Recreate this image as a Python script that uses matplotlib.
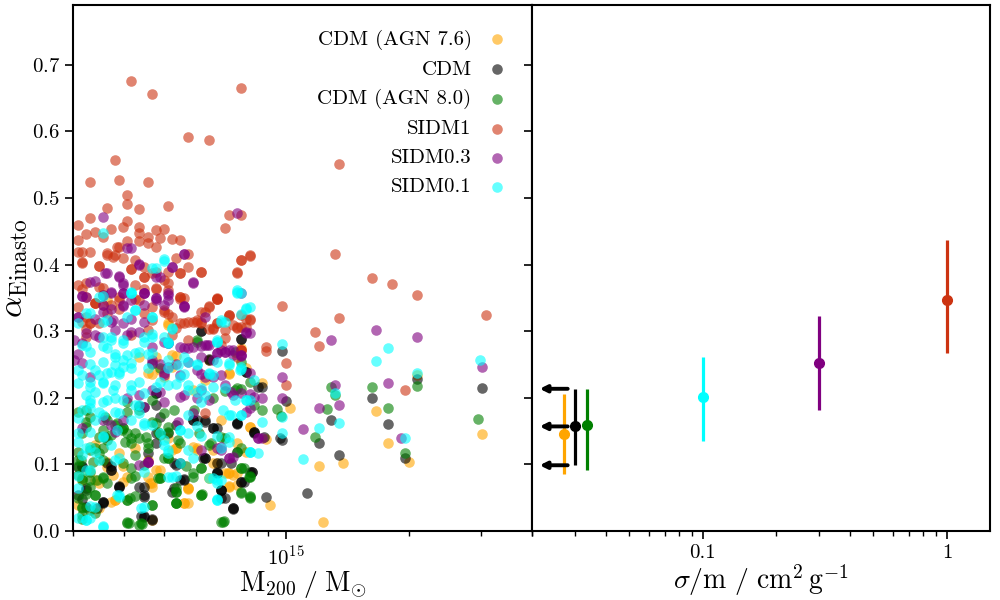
import numpy as np
import matplotlib
matplotlib.use("Agg")
import matplotlib.pyplot as plt
from matplotlib.ticker import NullFormatter, FixedLocator, FixedFormatter

plt.rcParams['font.family'] = 'serif'
plt.rcParams['font.serif'] = ['cmr10', 'DejaVu Serif']
plt.rcParams['mathtext.fontset'] = 'cm'
plt.rcParams['axes.formatter.use_mathtext'] = True
plt.rcParams['axes.unicode_minus'] = False
plt.rcParams['axes.linewidth'] = 1.5

# ── 왼쪽 패널: (log10 M200, alpha_Einasto) ─────────────────────────
agn76 = [
    (14.71, 0.312), (14.73, 0.262), (14.86, 0.237), (14.94, 0.222), (15.01, 0.185), (15.22, 0.180),
    (15.32, 0.234), (15.48, 0.146), (15.25, 0.132), (15.30, 0.104), (15.08, 0.098), (15.14, 0.102),
    (15.09, 0.014), (14.96, 0.039), (14.95, 0.138), (14.91, 0.156), (14.88, 0.087), (14.86, 0.087),
    (14.86, 0.066), (14.81, 0.080), (14.76, 0.065), (14.76, 0.042), (14.69, 0.092), (14.72, 0.122),
    (14.58, 0.047), (14.54, 0.072), (14.67, 0.066), (14.61, 0.081), (14.56, 0.096), (14.59, 0.117),
    (14.63, 0.125), (14.66, 0.107), (14.66, 0.081), (14.64, 0.261), (14.68, 0.261), (14.66, 0.237),
    (14.72, 0.246), (14.80, 0.227), (14.77, 0.212), (14.84, 0.167), (14.77, 0.126), (14.82, 0.122),
    (14.52, 0.126), (14.58, 0.047), (14.60, 0.074), (14.67, 0.072), (14.76, 0.063), (14.75, 0.042),
    (14.68, 0.092), (14.73, 0.125), (14.78, 0.122), (14.82, 0.102), (14.85, 0.087), (14.88, 0.069),
    (14.91, 0.156), (14.88, 0.132), (14.67, 0.017), (14.51, 0.092), (14.53, 0.129), (14.90, 0.245),
    (14.69, 0.242), (14.81, 0.257),
    (14.56, 0.347), (14.67, 0.236), (14.70, 0.231), (14.86, 0.236), (14.89, 0.274), (14.71, 0.309),
    (14.72, 0.264), (14.56, 0.104), (14.60, 0.097), (14.50, 0.077), (14.53, 0.077), (14.575, 0.084),
    (14.665, 0.072), (14.57, 0.044), (14.54, 0.034), (14.49, 0.039), (14.71, 0.139), (14.73, 0.124),
    (14.78, 0.124), (14.90, 0.119), (14.857, 0.087), (14.87, 0.084), (14.81, 0.079), (14.86, 0.067),
    (14.76, 0.064), (14.75, 0.042), (14.83, 0.102),
]

cdm = [
    (14.79, 0.300), (14.89, 0.288), (14.99, 0.270), (14.94, 0.216), (15.00, 0.195), (15.21, 0.200),
    (15.48, 0.215), (15.32, 0.228), (15.11, 0.167), (15.25, 0.161), (15.08, 0.132), (15.13, 0.114),
    (15.29, 0.110), (15.05, 0.057), (14.95, 0.051), (14.99, 0.137), (14.985, 0.140), (14.945, 0.141),
    (14.92, 0.149), (14.88, 0.162), (14.83, 0.154), (14.78, 0.167), (14.81, 0.258), (14.90, 0.239),
    (14.915, 0.089), (14.895, 0.074), (14.87, 0.033), (14.85, 0.050), (14.84, 0.062), (14.83, 0.087),
    (14.88, 0.119), (14.865, 0.102), (14.84, 0.102), (14.80, 0.110), (14.75, 0.078), (14.725, 0.065),
    (14.725, 0.102), (14.67, 0.018), (14.65, 0.023), (14.64, 0.066), (14.59, 0.068), (14.55, 0.044),
    (14.50, 0.048), (14.51, 0.036), (14.535, 0.034), (14.57, 0.092), (14.56, 0.102), (14.50, 0.096),
    (14.68, 0.207), (14.68, 0.189), (14.65, 0.186), (14.69, 0.171), (14.66, 0.117), (14.71, 0.147),
    (14.555, 0.141), (14.77, 0.167), (14.80, 0.164), (14.82, 0.155), (14.795, 0.110), (14.74, 0.102),
    (14.75, 0.077), (14.83, 0.089), (14.84, 0.050), (14.87, 0.035), (14.84, 0.062), (14.89, 0.074),
    (14.915, 0.089), (14.92, 0.147), (14.88, 0.161), (14.57, 0.092), (14.59, 0.066), (14.65, 0.066),
    (14.65, 0.051), (14.55, 0.044), (14.65, 0.021), (14.67, 0.017), (14.49, 0.096), (14.51, 0.062),
    (14.68, 0.147), (14.68, 0.132), (14.73, 0.159),
    (14.68, 0.207), (14.64, 0.187), (14.79, 0.301), (14.89, 0.289), (14.81, 0.256), (14.90, 0.239),
    (14.93, 0.216), (14.50, 0.097), (14.57, 0.097), (14.59, 0.066), (14.65, 0.054), (14.55, 0.042),
    (14.645, 0.022), (14.49, 0.054), (14.51, 0.064), (14.77, 0.167), (14.80, 0.167), (14.82, 0.154),
    (14.88, 0.162), (14.92, 0.149), (14.80, 0.109), (14.83, 0.102), (14.73, 0.099), (14.74, 0.077),
    (14.83, 0.087), (14.89, 0.074), (14.91, 0.089), (14.84, 0.062), (14.72, 0.059), (14.87, 0.034),
]

agn80 = [
    (14.78, 0.284), (14.875, 0.269), (14.89, 0.254), (14.85, 0.210), (14.875, 0.212), (14.89, 0.213),
    (14.94, 0.182), (14.976, 0.183), (14.986, 0.173), (15.11, 0.216), (15.12, 0.204), (15.10, 0.183),
    (15.07, 0.141), (15.21, 0.216), (15.248, 0.185), (15.32, 0.218), (15.29, 0.117), (15.47, 0.168),
    (14.847, 0.015), (14.89, 0.059), (14.91, 0.051), (14.908, 0.081), (14.895, 0.095), (14.77, 0.081),
    (14.794, 0.056), (14.73, 0.042), (14.73, 0.059), (14.69, 0.080), (14.615, 0.012), (14.646, 0.010),
    (14.618, 0.050), (14.63, 0.053), (14.50, 0.018), (14.50, 0.034), (14.52, 0.077), (14.537, 0.077),
    (14.50, 0.079), (14.497, 0.107), (14.525, 0.104), (14.54, 0.117), (14.57, 0.144), (14.598, 0.152),
    (14.605, 0.134), (14.656, 0.141), (14.686, 0.149), (14.739, 0.132), (14.787, 0.147), (14.815, 0.132),
    (14.84, 0.141), (14.774, 0.182), (14.70, 0.177), (14.724, 0.182), (14.638, 0.182), (14.51, 0.182),
    (14.555, 0.171), (14.51, 0.156), (14.50, 0.147), (14.71, 0.110), (14.685, 0.080), (14.62, 0.080),
    (14.61, 0.047), (14.61, 0.012), (14.64, 0.009), (14.67, 0.039), (14.73, 0.059), (14.73, 0.042),
    (14.79, 0.054), (14.84, 0.014), (14.91, 0.050), (14.89, 0.095), (14.91, 0.081), (14.88, 0.119),
    (14.79, 0.095), (14.77, 0.087), (14.52, 0.171), (14.55, 0.152), (14.585, 0.162), (14.61, 0.147),
    (14.62, 0.132), (14.63, 0.147), (14.66, 0.132), (14.68, 0.162), (14.71, 0.156), (14.52, 0.122),
    (14.49, 0.107), (14.50, 0.077), (14.52, 0.066), (14.53, 0.054), (14.50, 0.036), (14.52, 0.032),
    (14.55, 0.081), (14.49, 0.084), (14.60, 0.155), (14.56, 0.137), (14.54, 0.141),
    (14.67, 0.251), (14.69, 0.244), (14.61, 0.194), (14.67, 0.196), (14.78, 0.287), (14.88, 0.214),
    (14.91, 0.224), (14.92, 0.189), (14.82, 0.199), (14.49, 0.179), (14.51, 0.164), (14.56, 0.167),
    (14.61, 0.179), (14.58, 0.159), (14.60, 0.154), (14.62, 0.139), (14.64, 0.139), (14.53, 0.124),
    (14.55, 0.124), (14.55, 0.107), (14.49, 0.119), (14.67, 0.164), (14.69, 0.144), (14.66, 0.124),
    (14.63, 0.114), (14.65, 0.099), (14.60, 0.102), (14.62, 0.094), (14.70, 0.109), (14.49, 0.097),
    (14.52, 0.089), (14.55, 0.079), (14.56, 0.072), (14.63, 0.082), (14.69, 0.079), (14.51, 0.056),
    (14.53, 0.054), (14.67, 0.039), (14.61, 0.047), (14.49, 0.049), (14.50, 0.024), (14.53, 0.027),
    (14.61, 0.014), (14.645, 0.012), (14.71, 0.149), (14.735, 0.137), (14.81, 0.129), (14.85, 0.139),
    (14.89, 0.124), (14.71, 0.109), (14.755, 0.097), (14.79, 0.094), (14.89, 0.094), (14.91, 0.082),
    (14.73, 0.064), (14.79, 0.054), (14.73, 0.042), (14.845, 0.014), (14.89, 0.057), (14.91, 0.052),
]

sidm1 = [
    (14.62, 0.676), (14.67, 0.656), (14.89, 0.665), (14.76, 0.592), (14.81, 0.587), (14.58, 0.557),
    (14.52, 0.524), (14.59, 0.527), (14.66, 0.524), (15.13, 0.551), (14.61, 0.505), (14.61, 0.491),
    (14.71, 0.488), (14.56, 0.485), (14.64, 0.483), (14.49, 0.459), (14.52, 0.470), (14.61, 0.465),
    (14.57, 0.454), (14.60, 0.456), (14.64, 0.456), (14.68, 0.452), (14.70, 0.454), (14.86, 0.474),
    (14.89, 0.474), (14.85, 0.455), (14.51, 0.446), (14.53, 0.449), (14.64, 0.447), (14.66, 0.441),
    (14.69, 0.440), (14.72, 0.439), (14.74, 0.437), (14.49, 0.437), (14.55, 0.441), (14.59, 0.426),
    (14.61, 0.436), (14.64, 0.436), (14.66, 0.432), (14.68, 0.426), (14.50, 0.419), (14.52, 0.419),
    (14.56, 0.417), (14.58, 0.414), (14.60, 0.410), (14.63, 0.407), (14.73, 0.410), (14.76, 0.416),
    (14.89, 0.407), (14.91, 0.413), (15.12, 0.416), (15.21, 0.380), (15.26, 0.371), (15.32, 0.354),
    (14.50, 0.402), (14.54, 0.398), (14.62, 0.393), (14.65, 0.381), (14.68, 0.389), (14.71, 0.389),
    (14.74, 0.387), (14.79, 0.389), (14.88, 0.387), (14.71, 0.362), (14.75, 0.350), (14.81, 0.338),
    (14.83, 0.348), (14.79, 0.329), (14.77, 0.314), (14.79, 0.314), (14.76, 0.314), (14.82, 0.303),
    (14.83, 0.312), (14.86, 0.323), (14.89, 0.324), (14.91, 0.317), (14.88, 0.305), (14.90, 0.306),
    (14.99, 0.338), (14.95, 0.276), (14.95, 0.270), (15.00, 0.252), (15.00, 0.219), (15.07, 0.299),
    (15.08, 0.277), (15.13, 0.320), (15.49, 0.324), (15.29, 0.212), (14.89, 0.272), (14.88, 0.261),
    (14.85, 0.290), (14.84, 0.279), (14.76, 0.287), (14.72, 0.294), (14.73, 0.305), (14.70, 0.329),
    (14.67, 0.336), (14.64, 0.347), (14.59, 0.347), (14.55, 0.339), (14.53, 0.342), (14.51, 0.321),
    (14.52, 0.312), (14.62, 0.294), (14.66, 0.302), (14.51, 0.291), (14.53, 0.342), (14.59, 0.351),
    (14.74, 0.351), (14.81, 0.336), (14.83, 0.348), (14.86, 0.324), (14.90, 0.318), (14.75, 0.312),
    (14.78, 0.314), (14.79, 0.312), (14.82, 0.305), (14.85, 0.302), (14.88, 0.306), (14.89, 0.272),
    (14.71, 0.326), (14.52, 0.312), (14.54, 0.312), (14.49, 0.336), (14.56, 0.414), (14.575, 0.411),
    (14.49, 0.419), (14.50, 0.404), (14.54, 0.398), (14.585, 0.426), (14.62, 0.393), (14.65, 0.381),
    (14.68, 0.365), (14.71, 0.372), (14.74, 0.351), (14.79, 0.389), (14.83, 0.350), (14.91, 0.414),
    (14.89, 0.407), (14.88, 0.389), (14.74, 0.387), (14.76, 0.396), (14.51, 0.372), (14.49, 0.369),
    (14.54, 0.366), (14.63, 0.369), (14.67, 0.387), (14.70, 0.377), (14.65, 0.396), (14.55, 0.354),
    (14.51, 0.351),
    (14.50, 0.363), (14.55, 0.365), (14.65, 0.363), (14.68, 0.364), (14.53, 0.342), (14.57, 0.339),
    (14.63, 0.349), (14.50, 0.314), (14.51, 0.304), (14.56, 0.327), (14.65, 0.327), (14.67, 0.317),
    (14.70, 0.332), (14.59, 0.334), (14.74, 0.349), (14.83, 0.348), (14.72, 0.322), (14.74, 0.312),
    (14.78, 0.317), (14.80, 0.329), (14.81, 0.304), (14.83, 0.312), (14.86, 0.324), (14.87, 0.309),
    (14.89, 0.306), (14.91, 0.319), (14.89, 0.271), (14.80, 0.177),
]

sidm03 = [
    (14.55, 0.471), (14.88, 0.477), (14.62, 0.425), (14.64, 0.400), (14.75, 0.416), (14.72, 0.397),
    (14.77, 0.373), (14.69, 0.382), (14.59, 0.383), (14.53, 0.375), (14.56, 0.387), (14.60, 0.369),
    (14.65, 0.357), (14.89, 0.357), (14.75, 0.338), (14.71, 0.354), (14.71, 0.282), (14.76, 0.275),
    (14.79, 0.277), (14.81, 0.279), (14.83, 0.267), (14.85, 0.269), (14.87, 0.272), (14.89, 0.263),
    (14.91, 0.297), (14.91, 0.237), (14.94, 0.200), (14.99, 0.231), (14.99, 0.200), (14.94, 0.140),
    (15.11, 0.287), (15.22, 0.302), (15.32, 0.291), (15.25, 0.222), (15.48, 0.246), (15.12, 0.219),
    (15.13, 0.189), (15.08, 0.185), (15.04, 0.153), (15.28, 0.140), (14.84, 0.122), (14.87, 0.111),
    (14.66, 0.104), (14.50, 0.353), (14.55, 0.354), (14.60, 0.357), (14.65, 0.357), (14.68, 0.350),
    (14.71, 0.347), (14.75, 0.338), (14.60, 0.338), (14.65, 0.339), (14.49, 0.321), (14.55, 0.329),
    (14.575, 0.317), (14.62, 0.299), (14.65, 0.314), (14.51, 0.297), (14.54, 0.291), (14.48, 0.287),
    (14.71, 0.282), (14.75, 0.275), (14.805, 0.279), (14.83, 0.267), (14.85, 0.269), (14.87, 0.264),
    (14.89, 0.264), (14.90, 0.297), (14.78, 0.242), (14.80, 0.231), (14.84, 0.234), (14.71, 0.246),
    (14.70, 0.237), (14.48, 0.257), (14.50, 0.252), (14.52, 0.231), (14.67, 0.252), (14.87, 0.204),
    (14.89, 0.207), (14.91, 0.185), (14.65, 0.186), (14.74, 0.201), (14.79, 0.212), (14.61, 0.425),
    (14.64, 0.401), (14.75, 0.416), (14.72, 0.396), (14.77, 0.374), (14.68, 0.381), (14.59, 0.381),
    (14.555, 0.387), (14.52, 0.374), (14.60, 0.372), (14.65, 0.357), (14.71, 0.357), (14.68, 0.350),
    (14.57, 0.357), (14.50, 0.353), (14.66, 0.104), (14.86, 0.110), (14.84, 0.126), (14.77, 0.177),
    (14.55, 0.167), (14.57, 0.159), (14.93, 0.140),
    (14.51, 0.352), (14.57, 0.359), (14.60, 0.357), (14.62, 0.347), (14.68, 0.347), (14.70, 0.339),
    (14.55, 0.339), (14.57, 0.334), (14.60, 0.339), (14.49, 0.322), (14.53, 0.319), (14.57, 0.314),
    (14.60, 0.312), (14.62, 0.319), (14.64, 0.299), (14.61, 0.294), (14.58, 0.302), (14.53, 0.294),
    (14.50, 0.282), (14.49, 0.266), (14.67, 0.276), (14.70, 0.284), (14.67, 0.256), (14.69, 0.251),
    (14.70, 0.234), (14.61, 0.199), (14.64, 0.204), (14.67, 0.211), (14.69, 0.209), (14.70, 0.194),
    (14.75, 0.336), (14.80, 0.322), (14.74, 0.276), (14.77, 0.276), (14.80, 0.279), (14.84, 0.271),
    (14.86, 0.271), (14.89, 0.264), (14.90, 0.299), (14.79, 0.261), (14.82, 0.256), (14.76, 0.254),
    (14.73, 0.251), (14.74, 0.234), (14.79, 0.236), (14.82, 0.231), (14.85, 0.219), (14.865, 0.209),
    (14.91, 0.206), (14.92, 0.201), (14.75, 0.204), (14.78, 0.199), (14.81, 0.196), (14.50, 0.154),
    (14.58, 0.149), (14.60, 0.167), (14.64, 0.099), (14.66, 0.104), (14.735, 0.164), (14.79, 0.122),
    (14.83, 0.124), (14.86, 0.109), (14.93, 0.139), (14.90, 0.179),
]

sidm01 = [
    (14.55, 0.448), (14.70, 0.408), (14.68, 0.395), (14.89, 0.358), (14.62, 0.358), (14.91, 0.336),
    (14.89, 0.326), (14.85, 0.314), (14.71, 0.282), (14.83, 0.284), (14.89, 0.243), (14.99, 0.281),
    (15.22, 0.255), (15.25, 0.275), (15.32, 0.237), (15.475, 0.257), (15.12, 0.207), (15.13, 0.162),
    (15.08, 0.154), (15.04, 0.108), (15.29, 0.140), (14.99, 0.147), (14.99, 0.171), (14.94, 0.163),
    (14.91, 0.197), (14.91, 0.118), (14.83, 0.046), (14.84, 0.077), (14.86, 0.174), (14.79, 0.215),
    (14.81, 0.237), (14.86, 0.252), (14.55, 0.006), (14.52, 0.020), (14.65, 0.036), (14.59, 0.051),
    (14.72, 0.081), (14.53, 0.036), (14.65, 0.089), (14.585, 0.054), (14.51, 0.017), (14.49, 0.020),
    (14.83, 0.048), (14.71, 0.081), (14.81, 0.080), (14.83, 0.077), (14.91, 0.119), (14.59, 0.110),
    (14.52, 0.092), (14.89, 0.174), (14.49, 0.170), (14.53, 0.167), (14.55, 0.141), (14.52, 0.126),
    (14.50, 0.114), (14.54, 0.107), (14.49, 0.147), (14.585, 0.152), (14.62, 0.167), (14.65, 0.159),
    (14.69, 0.147), (14.74, 0.152), (14.76, 0.174), (14.71, 0.122), (14.84, 0.125), (14.86, 0.141),
    (14.54, 0.351), (14.52, 0.327), (14.55, 0.314), (14.49, 0.312), (14.63, 0.332), (14.67, 0.321),
    (14.72, 0.305), (14.71, 0.284), (14.65, 0.284), (14.60, 0.282), (14.57, 0.287), (14.55, 0.291),
    (14.50, 0.279), (14.52, 0.269), (14.56, 0.275), (14.58, 0.261), (14.63, 0.267), (14.67, 0.267),
    (14.60, 0.257), (14.62, 0.252), (14.66, 0.245), (14.71, 0.257), (14.76, 0.254), (14.78, 0.249),
    (14.74, 0.231), (14.71, 0.219), (14.59, 0.239), (14.56, 0.237), (14.53, 0.242), (14.49, 0.242),
    (14.49, 0.222), (14.52, 0.216), (14.55, 0.222), (14.575, 0.212), (14.62, 0.212), (14.65, 0.207),
    (14.68, 0.216), (14.52, 0.197), (14.56, 0.197), (14.60, 0.197), (14.63, 0.189), (14.50, 0.182),
    (14.54, 0.179), (14.59, 0.177), (14.83, 0.287), (14.86, 0.249), (14.89, 0.246), (14.90, 0.335),
    (14.88, 0.362), (14.84, 0.314), (14.82, 0.216), (14.85, 0.215), (14.90, 0.197), (14.92, 0.227),
    (14.79, 0.194), (14.76, 0.212), (14.67, 0.291), (14.70, 0.291), (14.70, 0.405), (14.67, 0.395),
    (14.62, 0.357), (14.55, 0.353), (14.88, 0.357),
    (14.62, 0.359), (14.63, 0.332), (14.51, 0.327), (14.61, 0.322), (14.56, 0.317), (14.67, 0.322),
    (14.67, 0.296), (14.57, 0.292), (14.60, 0.287), (14.65, 0.292), (14.66, 0.266), (14.64, 0.269),
    (14.51, 0.277), (14.55, 0.277), (14.58, 0.266), (14.61, 0.264), (14.52, 0.251), (14.55, 0.254),
    (14.58, 0.249), (14.60, 0.246), (14.57, 0.239), (14.59, 0.236), (14.62, 0.244), (14.54, 0.234),
    (14.50, 0.234), (14.52, 0.224), (14.55, 0.224), (14.51, 0.204), (14.53, 0.209), (14.58, 0.219),
    (14.58, 0.199), (14.62, 0.219), (14.64, 0.224), (14.64, 0.189), (14.55, 0.194), (14.52, 0.192),
    (14.69, 0.224), (14.88, 0.359), (14.90, 0.334), (14.84, 0.317), (14.72, 0.304), (14.83, 0.284),
    (14.71, 0.282), (14.75, 0.261), (14.735, 0.249), (14.78, 0.251), (14.83, 0.254), (14.886, 0.241),
    (14.75, 0.236), (14.81, 0.236), (14.82, 0.234), (14.73, 0.221), (14.76, 0.219), (14.78, 0.209),
    (14.80, 0.204), (14.874, 0.196), (14.90, 0.196), (14.71, 0.244), (14.52, 0.184), (14.55, 0.174),
    (14.58, 0.179), (14.64, 0.177), (14.65, 0.162), (14.67, 0.159), (14.52, 0.149), (14.49, 0.134),
    (14.51, 0.124), (14.55, 0.142), (14.57, 0.129), (14.53, 0.119), (14.58, 0.107), (14.70, 0.129),
    (14.70, 0.137), (14.51, 0.092), (14.49, 0.082), (14.59, 0.054), (14.645, 0.034), (14.52, 0.037),
    (14.51, 0.017), (14.55, 0.007), (14.49, 0.064), (14.74, 0.152), (14.76, 0.147), (14.79, 0.142),
    (14.78, 0.157), (14.865, 0.174), (14.89, 0.174), (14.83, 0.142), (14.86, 0.134), (14.91, 0.119),
    (14.93, 0.117), (14.76, 0.122), (14.77, 0.109), (14.74, 0.102), (14.73, 0.082), (14.82, 0.079),
    (14.83, 0.072), (14.83, 0.047), (14.71, 0.117), (14.845, 0.182),
]

# ── 오른쪽 패널: 단면적별 평균과 구간 ──────────────────────────────
sigma_pos   = [0.0271, 0.0301, 0.0335, 0.1, 0.3, 1.0]
alpha_mid   = [0.146, 0.157, 0.159, 0.2015, 0.2526, 0.3464]
alpha_hi    = [0.2055, 0.2135, 0.2125, 0.2617, 0.3228, 0.437]
alpha_lo    = [0.0852, 0.0987, 0.0922, 0.1353, 0.1815, 0.2667]
sigma_cols  = ["orange", "black", "green", "cyan", "purple", "#cc3311"]
# CDM 상한 화살표 (y값, 꼬리 x, 머리 x)
arrow_y     = [0.2135, 0.157, 0.0987]
arrow_tail  = 0.028
arrow_head  = 0.0215

labels = ["CDM (AGN 7.6)", "CDM", "CDM (AGN 8.0)", "SIDM1", "SIDM0.3", "SIDM0.1"]
colors = ["orange", "black", "green", "#cc3311", "purple", "cyan"]
series = [agn76, cdm, agn80, sidm1, sidm03, sidm01]

fig = plt.figure(figsize=(10, 6), dpi=100)
ax1 = fig.add_axes([0.073, 0.115, 0.459, 0.877])
ax2 = fig.add_axes([0.532, 0.115, 0.458, 0.877], sharey=ax1)

for pts, lab, col in zip(series, labels, colors):
    arr = np.array(pts)
    ax1.scatter(10 ** arr[:, 0], arr[:, 1], s=58, color=col, alpha=0.6, linewidths=0, label=lab)

ax1.set_xscale("log")
ax1.set_xlim(3e14, 4e15)
ax1.set_ylim(0, 0.79)
ax1.xaxis.set_minor_formatter(NullFormatter())
ax1.set_xlabel(r"$\mathrm{M_{200}\;/\;M_{\odot}}$", fontsize=20, labelpad=0)
ax1.set_ylabel(r"$\alpha_{\rm Einasto}$", fontsize=24, labelpad=1)
ax1.legend(loc="upper right", frameon=False, markerfirst=False, fontsize=15,
           handlelength=1.0, handletextpad=0.7, borderaxespad=0.8)

# 오른쪽: 에러바
lo = np.array(alpha_mid) - np.array(alpha_lo)
hi = np.array(alpha_hi) - np.array(alpha_mid)
for i in range(len(sigma_pos)):
    ax2.errorbar(sigma_pos[i], alpha_mid[i], yerr=[[lo[i]], [hi[i]]], fmt="o",
                 color=sigma_cols[i], ms=7, elinewidth=2.3, capsize=0)
for y in arrow_y:
    ax2.annotate("", xy=(arrow_head, y), xytext=(arrow_tail, y),
                 arrowprops=dict(arrowstyle="-|>", color="k", lw=2.8,
                                 mutation_scale=10, shrinkA=0, shrinkB=0))

ax2.set_xscale("log")
ax2.set_xlim(0.02, 1.5)
ax2.xaxis.set_major_locator(FixedLocator([0.1, 1]))
ax2.xaxis.set_major_formatter(FixedFormatter(["0.1", "1"]))
ax2.xaxis.set_minor_formatter(NullFormatter())
ax2.tick_params(axis="y", labelleft=False)
ax2.set_xlabel(r"$\sigma/\mathrm{m}\ /\ \mathrm{cm^2\,g^{-1}}$", fontsize=20, labelpad=0)

for ax in (ax1, ax2):
    ax.tick_params(which="major", direction="out", length=6, width=1.2, labelsize=15)
    ax.tick_params(which="minor", direction="out", length=3.5, width=1.0)

fig.savefig("out.png", dpi=100)
